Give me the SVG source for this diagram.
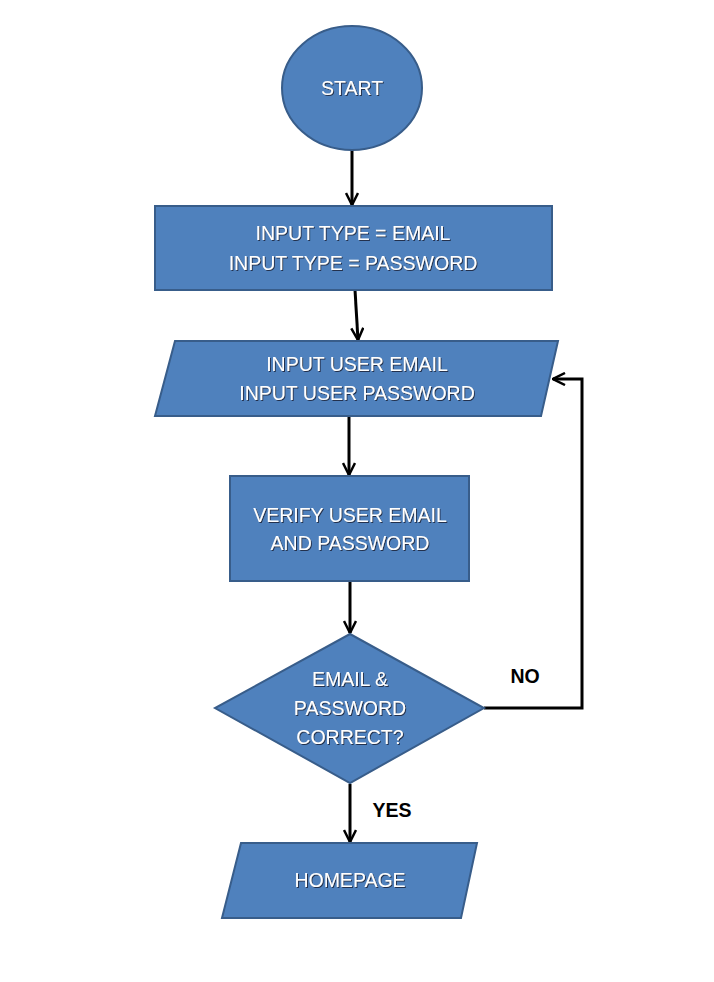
<svg xmlns="http://www.w3.org/2000/svg" width="714" height="982" viewBox="0 0 714 982">
<style>
.shape{fill:#4F81BD;stroke:#385D8A;stroke-width:2}
.t{font-family:"Liberation Sans",Arial,sans-serif;font-size:19.5px;fill:#fff;text-anchor:middle;filter:url(#sh)}
.lbl{font-family:"Liberation Sans",Arial,sans-serif;font-size:19.5px;font-weight:bold;fill:#000;text-anchor:middle}
.c{fill:none;stroke:#000;stroke-width:3;marker-end:url(#ah)}
</style>
<defs>
<filter id="sh" x="-10%" y="-30%" width="120%" height="160%">
<feDropShadow dx="1" dy="1" stdDeviation="0.4" flood-color="#1a2a40" flood-opacity="0.9"/>
</filter>
<marker id="ah" viewBox="0 0 14 14" refX="13" refY="7" markerWidth="14" markerHeight="14" markerUnits="userSpaceOnUse" orient="auto">
<path d="M1,1 L13,7 L1,13" fill="none" stroke="#000" stroke-width="2.5"/>
</marker>
</defs>
<rect width="714" height="982" fill="#fff"/>
<g id="connectors">
<line class="c" x1="352" y1="150" x2="352" y2="205"/>
<line class="c" x1="355" y1="290" x2="358" y2="340"/>
<line class="c" x1="349" y1="417" x2="349" y2="475"/>
<line class="c" x1="350" y1="582" x2="350" y2="633"/>
<line class="c" x1="350" y1="784" x2="350" y2="842"/>
<polyline class="c" points="484,708 582,708 582,379 553,379"/>
</g>
<g id="start">
<ellipse class="shape" cx="352" cy="88" rx="70" ry="62"/>
<text class="t" x="352" y="95">START</text>
</g>
<g id="input-type">
<rect class="shape" x="155" y="206" width="397" height="84"/>
<text class="t" x="353" y="240">INPUT TYPE = EMAIL</text>
<text class="t" x="353" y="270">INPUT TYPE = PASSWORD</text>
</g>
<g id="input-user">
<polygon class="shape" points="175,341 558,341 541,416 155,416"/>
<text class="t" x="357" y="371">INPUT USER EMAIL</text>
<text class="t" x="357" y="400">INPUT USER PASSWORD</text>
</g>
<g id="verify">
<rect class="shape" x="230" y="476" width="239" height="105"/>
<text class="t" x="350" y="522">VERIFY USER EMAIL</text>
<text class="t" x="350" y="550">AND PASSWORD</text>
</g>
<g id="decision">
<polygon class="shape" points="350,634 484,708 350,783 215,708"/>
<text class="t" x="350" y="686">EMAIL &amp;</text>
<text class="t" x="350" y="715">PASSWORD</text>
<text class="t" x="350" y="744">CORRECT?</text>
</g>
<g id="homepage">
<polygon class="shape" points="241,843 477,843 461,918 222,918"/>
<text class="t" x="350" y="887">HOMEPAGE</text>
</g>
<text class="lbl" x="525" y="683">NO</text>
<text class="lbl" x="392" y="817">YES</text>
</svg>
